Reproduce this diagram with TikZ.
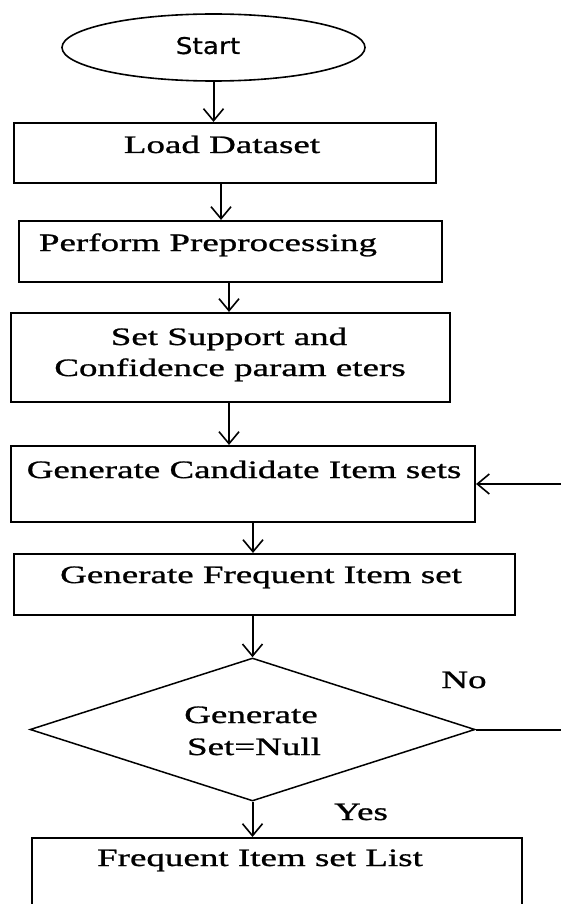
\documentclass[tikz,border=0pt]{standalone}
\usepackage{fontspec}
\setmainfont{Liberation Serif}[FakeStretch=1.48,FakeBold=1]
\newfontfamily\startfont{DejaVu Sans}[FakeStretch=1.15,FakeBold=0.6]
\usetikzlibrary{arrows.meta,shapes.geometric}
\begin{document}
\begin{tikzpicture}[x=1pt,y=-1pt,
  box/.style={draw, line width=2.1pt, rectangle, inner sep=0pt},
  txt/.style={font=\fontsize{25}{30}\selectfont, inner sep=0pt, text height=17pt, text depth=5pt},
  arr/.style={-{Straight Barb[length=12pt,width=20pt,line width=1.6pt]}, line width=2pt}]
\useasboundingbox (0,0) rectangle (560,904);
% start
\node[ellipse, draw, line width=1.6pt, minimum width=303pt, minimum height=67pt, inner sep=0pt] (start) at (213.5,47.5) {};
\node[txt, font=\startfont\fontsize{23}{28}\selectfont] (starttxt) at (208,48) {Start};
% boxes
\node[box, minimum width=422pt, minimum height=60pt] (load) at (225,153) {};
\node[txt] (loadtxt) at (222,147) {Load Dataset};
\node[box, minimum width=423pt, minimum height=61pt] (pre) at (230.5,251.5) {};
\node[txt] (pretxt) at (208,245) {Perform Preprocessing};
\node[box, minimum width=439pt, minimum height=89pt] (set) at (230.5,357.5) {};
\node[txt] (settxta) at (229,339) {Set Support and};
\node[txt] (settxtb) at (230,370) {Confidence param eters};
\node[box, minimum width=464pt, minimum height=76pt] (cand) at (243,484) {};
\node[txt] (candtxt) at (244,472) {Generate Candidate Item sets};
\node[box, minimum width=501pt, minimum height=61pt] (freq) at (264.5,584.5) {};
\node[txt] (freqtxt) at (261,577) {Generate Frequent Item set};
\node[diamond, draw, line width=1.5pt, minimum width=445pt, minimum height=143pt, inner sep=0pt] (dec) at (252.5,729.5) {};
\node[txt] (dectxta) at (251,717) {Generate};
\node[txt] (dectxtb) at (254,749) {Set=Null};
\node[box, minimum width=490pt, minimum height=84pt] (final) at (277,880) {};
\node[txt] (finaltxt) at (260,860) {Frequent Item set List};
\node[txt] (no) at (464,682) {No};
\node[txt] (yes) at (361,814) {Yes};
\coordinate (loop) at (566,729.5);
% connectors
\draw[arr] (start.south) -- (start.south |- load.north);
\draw[arr] ([xshift=-4pt]load.south) -- ([xshift=-4pt]load.south |- pre.north);
\draw[arr] ([xshift=-1.5pt]pre.south) -- ([xshift=-1.5pt]pre.south |- set.north);
\draw[arr] ([xshift=-1.5pt]set.south) -- ([xshift=-1.5pt]set.south |- cand.north);
\draw[arr] ([xshift=10pt]cand.south) -- ([xshift=10pt]cand.south |- freq.north);
\draw[arr] (dec.north |- freq.south) -- (dec.north);
\draw[arr] (dec.south) -- (dec.south |- final.north);
\draw[arr] (dec.east) -- (loop) |- (cand.east);
\end{tikzpicture}
\end{document}
